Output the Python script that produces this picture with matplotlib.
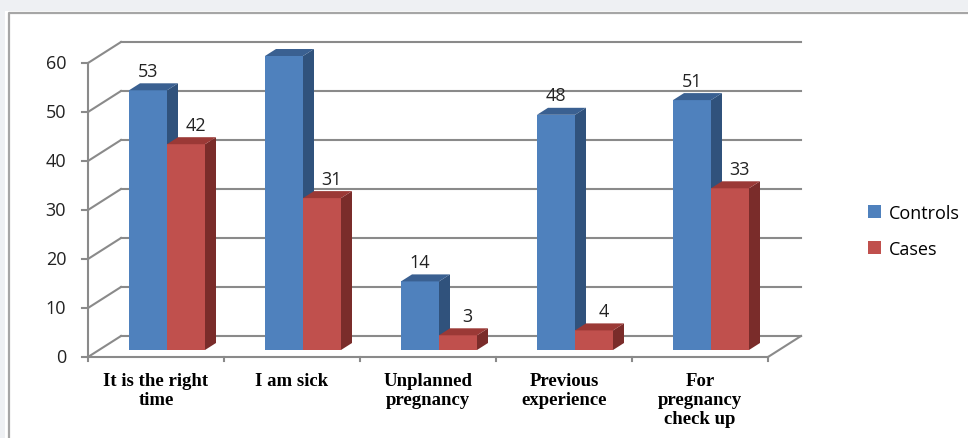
import numpy as np
import matplotlib.pyplot as plt
from matplotlib.patches import Polygon, Rectangle, Patch
from matplotlib.lines import Line2D

# Survey answers: reasons given, controls vs cases
categories = ["It is the right\ntime", "I am sick", "Unplanned\npregnancy",
              "Previous\nexperience", "For\npregnancy\ncheck up"]
controls = [53, 60, 14, 48, 51]
cases = [42, 31, 3, 4, 33]
series_names = ["Controls", "Cases"]
yticks = [0, 10, 20, 30, 40, 50, 60]

W, H = 968, 439
fig = plt.figure(figsize=(W / 100, H / 100), dpi=100, facecolor="#eef0f3")

# white chart area with a grey frame
fig.patches.append(Rectangle((5 / W, 0), 1, 1 - 12 / H, transform=fig.transFigure,
                             facecolor="white", edgecolor="none", zorder=-1))
fig.add_artist(Line2D([9 / W, 9 / W, 1], [0, 1 - 14 / H, 1 - 14 / H],
                      transform=fig.transFigure, color="#a6a6a6", lw=1.6))

# front plane of the 3d box: x 88..768 px, y 358..64 px
ax = fig.add_axes([88 / W, (H - 358) / H, 680 / W, 294 / H])
ax.set_xlim(0, 5)
ax.set_ylim(0, 60)
ax.axis("off")

n = len(categories)
ymax = yticks[-1]
dx = 33 / 136          # depth offset in category units
dy = 21 / 4.9          # depth offset in value units
grid_c = "#8a8a8a"
kw = dict(color=grid_c, lw=1.5, clip_on=False, zorder=1)

# back wall gridlines and side wall diagonals
for t in yticks:
    ax.plot([dx, n + dx], [t + dy, t + dy], **kw)
    ax.plot([0, dx], [t, t + dy], **kw)
# floor
ax.plot([0, n], [0, 0], **kw)
ax.plot([n, n + dx], [0, dy], **kw)
# y axis and ticks
ax.plot([0, 0], [0, ymax], **kw)
for t in yticks:
    ax.plot([-0.045, 0], [t, t], **kw)
    ax.text(-0.16, t, str(t), ha="right", va="center", fontsize=13,
            family="Open Sans", color="#222222")
# category ticks on the floor edge
for i in range(n + 1):
    ax.plot([i, i], [0, -0.9], **kw)

# bars sit one third of the way into the depth
f0, f1 = 1 / 3, 2 / 3
bw = 38 / 136
x0 = np.arange(n) + 0.5 + f0 * dx
base = f0 * dy
bdx, bdy = (f1 - f0) * dx, (f1 - f0) * dy

styles = [("#4f81bd", "#3a6091", "#30527c"),
          ("#c0504d", "#9b3936", "#7a2c2a")]

for k, (vals, (front, top, side)) in enumerate(zip([controls, cases], styles)):
    xs = x0 - bw + k * bw
    ax.bar(xs, vals, width=bw, bottom=base, align="edge", color=front,
           clip_on=False, zorder=3 + k)
    for x, v in zip(xs, vals):
        yt = base + v
        ax.add_patch(Polygon([(x + bw, base), (x + bw + bdx, base + bdy),
                              (x + bw + bdx, yt + bdy), (x + bw, yt)],
                             closed=True, facecolor=side, edgecolor="none",
                             clip_on=False, zorder=3 + k))
        ax.add_patch(Polygon([(x, yt), (x + bdx, yt + bdy),
                              (x + bw + bdx, yt + bdy), (x + bw, yt)],
                             closed=True, facecolor=top, edgecolor="none",
                             clip_on=False, zorder=3 + k))
        lx = x + bw / 2 + (0.07 if k == 1 else 0)
        ax.annotate(str(v), (lx, yt), xytext=(0, 14), textcoords="offset points",
                    ha="center", va="center", fontsize=13, family="Open Sans",
                    color="#222222", zorder=10)

# category labels
for i, c in enumerate(categories):
    ax.text(i + 0.5, -3.0, c, ha="center", va="top", fontsize=13.5,
            family="Liberation Serif", fontweight="bold", linespacing=1.15)

handles = [Patch(facecolor=styles[0][0]), Patch(facecolor=styles[1][0])]
fig.legend(handles, series_names, loc="center left",
           bbox_to_anchor=(852 / W, 1 - 232 / H), frameon=False,
           prop={"family": "Open Sans", "size": 13}, handlelength=0.7,
           handleheight=0.7, handletextpad=0.45, labelspacing=1.0)

fig.savefig("out.png", dpi=100, facecolor=fig.get_facecolor())
